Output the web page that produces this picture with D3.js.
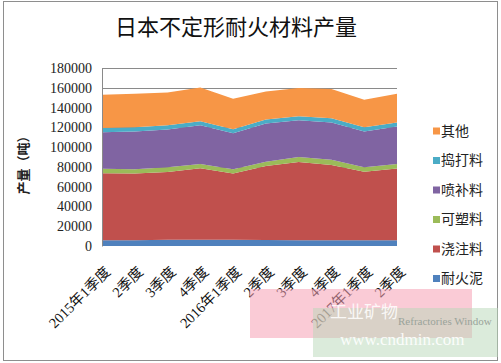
<!DOCTYPE html>
<html>
<head>
<meta charset="utf-8">
<script src="https://cdn.jsdelivr.net/npm/d3@7"></script>
<style>
  body { margin: 0; background: #fff; }
  svg { display: block; }
</style>
</head>
<body>
<svg id="chart" width="501" height="363"></svg>
<script>
// quarters on the x axis
var quarters = ['2015年1季度', '2季度', '3季度', '4季度', '2016年1季度', '2季度', '3季度', '4季度', '2017年1季度', '2季度'];

// production per product, tons
var naihuoni  = [5800, 5900, 6200, 6300, 6200, 6000, 5900, 5900, 5800, 5800];       // 耐火泥
var jiaozhu   = [67800, 67300, 68700, 72200, 67200, 74800, 79100, 75900, 69400, 72500]; // 浇注料
var kesu      = [4400, 4400, 4800, 4500, 4200, 4400, 5100, 5300, 4500, 4700];       // 可塑料
var penbu     = [37100, 38100, 38100, 39000, 36500, 38800, 37000, 37800, 36000, 37800]; // 喷补料
var daoda     = [4100, 4500, 4200, 4200, 4000, 4000, 4100, 4400, 4500, 4100];       // 捣打料
var qita      = [33700, 33700, 33200, 34000, 30700, 28300, 28500, 29400, 27600, 29000]; // 其他

var seriesNames = ['耐火泥', '浇注料', '可塑料', '喷补料', '捣打料', '其他'];
var seriesColors = ['#4f81bd', '#c0504d', '#9bbb59', '#8064a2', '#4bacc6', '#f79646'];
var yTicks = [0, 20000, 40000, 60000, 80000, 100000, 120000, 140000, 160000, 180000];

var svg = d3.select('#chart');
var numFont = '"Liberation Serif", "Noto Sans CJK SC", serif';
var cjkFont = '"Noto Sans CJK SC", sans-serif';

// chart border
svg.append('rect').attr('x', 3.5).attr('y', 1.5).attr('width', 494).attr('height', 359)
   .attr('fill', '#fff').attr('stroke', '#8e8e8e');

// title
svg.append('text').attr('x', 236).attr('y', 35).attr('text-anchor', 'middle')
   .style('font-family', cjkFont).style('font-size', '22px').attr('fill', '#111')
   .text('日本不定形耐火材料产量');

var x = d3.scalePoint().domain(d3.range(quarters.length)).range([102, 397]);
var y = d3.scaleLinear().domain([0, 180000]).range([246, 68]);

// gridlines
svg.append('g').selectAll('line').data(yTicks.slice(1)).enter().append('line')
   .attr('x1', 102).attr('x2', 397)
   .attr('y1', function(d){ return Math.round(y(d)) + 0.5; })
   .attr('y2', function(d){ return Math.round(y(d)) + 0.5; })
   .attr('stroke', '#8a8a8a').attr('stroke-width', 1);

// stacked areas
var rows = [];
for (var i = 0; i < quarters.length; i++) {
   rows.push({i: i, '耐火泥': naihuoni[i], '浇注料': jiaozhu[i], '可塑料': kesu[i],
              '喷补料': penbu[i], '捣打料': daoda[i], '其他': qita[i]});
}
var stacked = d3.stack().keys(seriesNames)(rows);
var area = d3.area()
   .x(function(d){ return x(d.data.i); })
   .y0(function(d){ return y(d[0]); })
   .y1(function(d){ return y(d[1]); });

svg.append('g').selectAll('path').data(stacked).enter().append('path')
   .attr('d', area)
   .attr('fill', function(d, k){ return seriesColors[k]; });

// y axis
var yAxis = d3.axisLeft(y).tickValues(yTicks).tickSize(0).tickPadding(10).tickFormat(d3.format('d'));
var gy = svg.append('g').attr('transform', 'translate(102,0)').call(yAxis);
gy.select('.domain').attr('stroke', '#8a8a8a');
gy.selectAll('text').style('font-family', numFont).style('font-size', '14px').attr('fill', '#222');

// y axis title
svg.append('text').attr('transform', 'translate(28,162) rotate(-90)').attr('text-anchor', 'middle')
   .style('font-family', cjkFont).style('font-size', '13px').style('font-weight', 'bold').attr('fill', '#222')
   .text('产量（吨）');

// x axis labels
var xAxis = d3.axisBottom(x).tickSize(0).tickFormat(function(d){ return quarters[d]; });
var gx = svg.append('g').attr('transform', 'translate(0,246)').call(xAxis);
gx.select('.domain').remove();
gx.selectAll('text')
   .style('font-family', numFont).style('font-size', '14.5px').attr('fill', '#111')
   .attr('text-anchor', 'end').attr('dy', '0.35em')
   .attr('transform', 'translate(3,21) rotate(-45)');

// legend, top item is the top of the stack
var legendItems = seriesNames.slice().reverse();
var legendColors = seriesColors.slice().reverse();
var lg = svg.append('g').selectAll('g').data(legendItems).enter().append('g')
   .attr('transform', function(d, k){ return 'translate(433,' + (131 + k * 29.5) + ')'; });
lg.append('rect').attr('x', 0).attr('y', -3.5).attr('width', 7).attr('height', 7)
   .attr('fill', function(d, k){ return legendColors[k]; });
lg.append('text').attr('x', 8).attr('dy', '0.35em')
   .style('font-family', cjkFont).style('font-size', '14px').attr('fill', '#222')
   .text(function(d){ return d; });

// watermark from the source picture
svg.append('rect').attr('x', 250).attr('y', 289).attr('width', 222).attr('height', 49)
   .attr('fill', '#f5a0b5').attr('opacity', 0.55);
svg.append('rect').attr('x', 313).attr('y', 308).attr('width', 185).attr('height', 49)
   .attr('fill', '#b8d8b8').attr('opacity', 0.5);
svg.append('text').attr('x', 330).attr('y', 318)
   .style('font-family', cjkFont).style('font-size', '17px').attr('fill', '#fff').attr('opacity', 0.85)
   .text('工业矿物');
svg.append('text').attr('x', 398).attr('y', 325)
   .style('font-family', numFont).style('font-size', '11px').attr('fill', '#9aa39a')
   .text('Refractories Window');
svg.append('text').attr('x', 340).attr('y', 345)
   .style('font-family', numFont).style('font-size', '17px').attr('fill', '#fff').attr('opacity', 0.9)
   .text('www.cndmin.com');
</script>
</body>
</html>
